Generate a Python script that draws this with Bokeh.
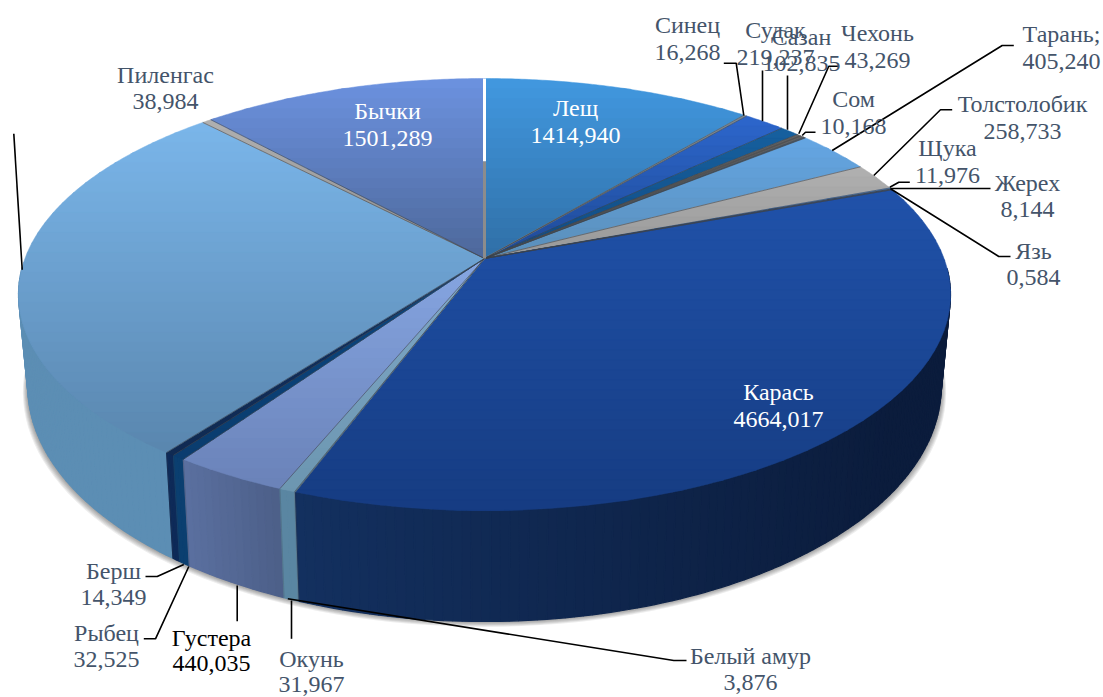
import math
from bokeh.plotting import figure
from bokeh.models import Range1d, ColumnDataSource
from bokeh.core.properties import value
from bokeh.embed import file_html
from bokeh.resources import INLINE

# ---- data ----
names = ["Лещ", "Синец", "Судак", "Сазан", "Чехонь", "Сом", "Тарань;", "Толстолобик", "Щука", "Жерех", "Язь",
         "Карась", "Белый амур", "Окунь", "Густера", "Рыбец", "Берш", "", "Пиленгас", "Бычки"]
values = [1414.940, 16.268, 219.237, 102.835, 43.269, 10.168, 405.240, 258.733, 11.976, 8.144, 0.584,
          4664.017, 3.876, 31.967, 440.035, 32.525, 14.349, 3563.0, 38.984, 1501.289]

# ---- styles ----
top_hi = ["#4298e0", "#9aa6b0", "#2c66cc", "#16609f", "#626365", "#5c6a78", "#64a6e4", "#b0b0b0", "#4a82cc", "#3a3f48", "#5a7fb8",
          "#2052aa", "#8fb0d0", "#7fa8c8", "#86a6e2", "#0b4680", "#12305f", "#7ab6ea", "#b0b0b0", "#6c92e0"]
top_lo = ["#2f6fa6", "#6a7a88", "#1f4a94", "#114a80", "#4a4b4d", "#4a5a68", "#5a8eb8", "#979797", "#3a6aa8", "#30353c", "#4a6fa8",
          "#163c82", "#6f94ac", "#6c96b0", "#6a82b8", "#0a3c6e", "#102a52", "#5a86ae", "#8c8c8c", "#4d689a"]
wall_l = ["#2f6fa6", "#6a7a88", "#1f4a94", "#114a80", "#4a4b4d", "#4a5a68", "#5a8eb8", "#979797", "#3a6aa8", "#30353c", "#4a6fa8",
          "#13305f", "#64889f", "#5a86a2", "#5b70a0", "#0b3f70", "#0e2a58", "#5c8eb4", "#8c8c8c", "#4d689a"]
wall_r = ["#2f6fa6", "#6a7a88", "#1f4a94", "#114a80", "#4a4b4d", "#4a5a68", "#5a8eb8", "#979797", "#3a6aa8", "#30353c", "#4a6fa8",
          "#0b1c3c", "#64889f", "#5a86a2", "#4c5f88", "#0b3f70", "#0e2a58", "#4c7798", "#8c8c8c", "#4d689a"]
# extra drawn angle that the 3-D bevel adds to the thinnest visible slices
bevel_deg = {"Окунь": 0.8, "Рыбец": 0.5, "Берш": 0.6, "Пиленгас": 0.3}
bevel_line = {"Синец": 1.5, "Чехонь": 1.5, "Сом": 1.2}
label_colors = ["#ffffff" if n in ("Лещ", "Карась", "Бычки") else ("#000000" if n == "Густера" else "#44546a") for n in names]

# ---- layout: label centres (x, name y, value y) ----
label_pos = {
    "Лещ": (575, 107, 135), "Синец": (687, 24, 52), "Судак": (775, 29, 57), "Сазан": (801, 36, 63),
    "Чехонь": (877, 32, 60), "Сом": (853, 98, 126), "Тарань;": (1061, 33, 61), "Толстолобик": (1022, 103, 131),
    "Щука": (947, 147, 175), "Жерех": (1027, 182, 209), "Язь": (1033, 250, 277), "Карась": (778, 391, 419),
    "Белый амур": (750, 655, 682), "Окунь": (311, 658, 684), "Густера": (211, 637, 663), "Рыбец": (106, 632, 659),
    "Берш": (113, 570, 597), "Пиленгас": (165, 74, 101), "Бычки": (387, 110, 138),
}
leaders = [
    [(723.3, 62.7), (735.7, 62.7), (743.3, 115)],
    [(762, 70), (762, 120.7)],
    [(787, 75), (787, 129.3)],
    [(838.3, 65.7), (828.3, 65.7), (798.3, 133.3)],
    [(815, 131.7), (805, 131.7), (801.7, 135)],
    [(1013.3, 45), (1001.7, 45), (831.7, 150)],
    [(951.7, 109.3), (940, 109.3), (873.3, 175)],
    [(909.3, 181.7), (898.3, 181.7), (889.3, 186.7)],
    [(990, 188), (890, 188)],
    [(1010, 256), (998.3, 256), (890, 188.3)],
    [(145, 576), (156.7, 576), (183.3, 564)],
    [(143.3, 638.3), (155, 638.3), (188.3, 566)],
    [(236.7, 585), (236.7, 620.7)],
    [(291, 600), (291, 638.3)],
    [(287.3, 598.3), (673.3, 660), (686, 660)],
    [(13.3, 133.3), (21.7, 269.3)],
]

# ---- perspective model of the disc ----
CX, CY, A, B, K = 484.0, 258.0, 459.5, 210.0, 0.1667
EY, RY_T, BY, RY_B, XS = 294.0, 216.0, 386.0, 235.0, 0.98


def proj(deg, r=1.0):
    t = math.radians(deg)
    u, v = r * math.sin(t), r * math.cos(t)
    w = 1 + K * v
    return CX + A * u / w, CY - B * v / w


def low(x, y):
    return CX + (x - CX) * XS, BY + (y - EY) * RY_B / RY_T


def rgb(h):
    return [int(h[i:i + 2], 16) for i in (1, 3, 5)]


def mix(a, b, f):
    f = max(0.0, min(1.0, f))
    ca, cb = rgb(a), rgb(b)
    return "#%02x%02x%02x" % tuple(round(ca[i] + (cb[i] - ca[i]) * f) for i in range(3))


def clip(poly, y0, keep_below):
    out = []
    n = len(poly)
    for i in range(n):
        p_, q_ = poly[i], poly[(i + 1) % n]
        ip = p_[1] >= y0 if keep_below else p_[1] <= y0
        iq = q_[1] >= y0 if keep_below else q_[1] <= y0
        if ip:
            out.append(p_)
        if ip != iq:
            f = (y0 - p_[1]) / (q_[1] - p_[1])
            out.append((p_[0] + (q_[0] - p_[0]) * f, y0))
    return out


scale = (360.0 - sum(bevel_deg.values())) / sum(values)
spans = []
a0 = 0.0
for nm, val in zip(names, values):
    a1 = a0 + val * scale + bevel_deg.get(nm, 0.0)
    spans.append((a0, a1))
    a0 = a1

p = figure(width=1103, height=697, x_range=Range1d(0, 1103), y_range=Range1d(697, 0),
           output_backend="svg", toolbar_location=None, min_border=0)
p.axis.visible = False
p.grid.visible = False
p.outline_line_color = None
p.background_fill_color = None
p.border_fill_color = None

# soft shadow below the wall
for i in range(1, 7):
    xs, ys = [], []
    for d in range(0, 360, 2):
        x, y = low(*proj(d))
        xs.append(CX + (x - CX) * (1 + 0.0018 * i))
        ys.append(y + i * 0.9)
    p.patch(xs, ys, fill_color="#000000", fill_alpha=0.07, line_color=None)

# walls
quads = []
for (s, e), cl, cr in zip(spans, wall_l, wall_r):
    n = max(1, math.ceil((e - s) / 1.0))
    sx0, _ = proj(s)
    sx1, _ = proj(e)
    xmin, xmax = min(sx0, sx1), max(sx0, sx1)
    for j in range(n):
        t0, t1 = s + (e - s) * j / n, s + (e - s) * (j + 1) / n
        x0, y0 = proj(t0)
        x1, y1 = proj(t1)
        if max(y0, y1) < 270:
            continue
        bx0, by0 = low(x0, y0)
        bx1, by1 = low(x1, y1)
        f = ((x0 + x1) / 2 - xmin) / max(xmax - xmin, 1)
        quads.append((max(y0, y1), [x0, x1, bx1, bx0], [y0, y1, by1, by0], mix(cl, cr, f)))
quads.sort(key=lambda q: q[0])
p.patches(xs=[q[1] for q in quads], ys=[q[2] for q in quads], fill_color=[q[3] for q in quads],
          line_color=[q[3] for q in quads], line_width=1.2)

# top surface, one wedge at a time, in horizontal gradient bands
bx, by, bc = [], [], []
BAND = 10
for (s, e), hi, lo in zip(spans, top_hi, top_lo):
    n = max(2, math.ceil((e - s) / 0.5))
    poly = [(CX, CY)] + [proj(s + (e - s) * j / n) for j in range(n + 1)]
    ymin = min(q[1] for q in poly)
    ymax = max(q[1] for q in poly)
    y = ymin
    while y < ymax:
        part = clip(clip(poly, y, True), y + BAND + 1, False)
        if len(part) >= 3:
            bx.append([q[0] for q in part])
            by.append([q[1] for q in part])
            bc.append(mix(hi, lo, (y + BAND / 2 - ymin) / max(ymax - ymin, 1)))
        y += BAND
p.patches(xs=bx, ys=by, fill_color=bc, line_color=bc, line_width=0.5)

# hairline slices stay visible
for nm, (s, e), hi, lo in zip(names, spans, top_hi, top_lo):
    if nm in bevel_line:
        m = (s + e) / 2
        x1, y1 = proj(m, 1.0)
        p.line([CX, x1], [CY, y1], line_color=mix(hi, lo, 0.7), line_width=bevel_line[nm])

# slice edges
for s, _ in spans[1:]:
    x, y = proj(s)
    p.line([CX, x], [CY, y], line_color="#3c4148", line_alpha=0.55, line_width=1)
    if y > 294:
        bx1, by1 = low(x, y)
        p.line([x, bx1], [y, by1], line_color="#3c4148", line_alpha=0.25, line_width=1)
x, y = proj(0, 1.0)
xm, ym = proj(0, 0.5)
p.line([x, xm], [y, ym], line_color="#ffffff", line_width=3)
p.line([xm, CX], [ym, CY], line_color="#8c8c8c", line_width=3)

# leader lines
for pts in leaders:
    p.line([q[0] for q in pts], [q[1] for q in pts], line_color="#000000", line_width=1.6)

# labels
tx, ty, tt, tc = [], [], [], []
for nm, val, col in zip(names, values, label_colors):
    if not nm:
        continue
    lx, ly, lv = label_pos[nm]
    tx += [lx, lx]
    ty += [ly, lv]
    tt += [nm, f"{val:.3f}".replace(".", ",")]
    tc += [col, col]
src = ColumnDataSource(dict(x=tx, y=ty, text=tt, color=tc))
p.text(x="x", y="y", text="text", source=src, text_color="color", text_align="center", text_baseline="middle",
       text_font=value("Liberation Serif"), text_font_size="24px")

open("out.html", "w").write(file_html(p, INLINE))
